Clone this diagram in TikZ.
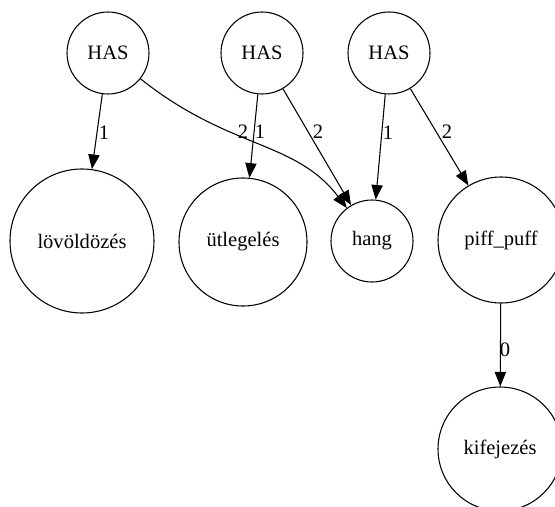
\documentclass[tikz,border=0pt]{standalone}
\usepackage{fontspec}
\setmainfont{Liberation Serif}
\usetikzlibrary{arrows.meta}
\begin{document}
\begin{tikzpicture}[x=0.75pt,y=-0.75pt,
  every node/.style={font=\fontsize{15.4}{18}\selectfont},
  circ/.style={draw,circle,inner sep=0pt,line width=0.8pt},
  lbl/.style={inner sep=0pt},
  conn/.style={line width=0.8pt,-{Triangle[length=11pt,width=8.5pt]}}]
\clip (0,0) rectangle (555,506);
\node[circ,minimum size=61.5pt] (h1) at (108,53) {HAS};
\node[circ,minimum size=61.5pt] (h2) at (262,53) {HAS};
\node[circ,minimum size=61.5pt] (h3) at (389,53) {HAS};
\node[circ,minimum size=108pt] (lov) at (82,241) {lövöldözés};
\node[circ,minimum size=96pt] (utl) at (243,242) {ütlegelés};
\node[circ,minimum size=61.5pt] (hang) at (372,241) {hang};
\node[circ,minimum size=94.5pt] (piff) at (501,240) {piff\_puff};
\node[circ,minimum size=93pt] (kif) at (500,449) {kifejezés};
\draw[conn] (h1) -- (lov);
\draw[conn] (h1) .. controls (230,150) and (295,140) .. (hang);
\draw[conn] (h2) -- (utl);
\draw[conn] (h2) -- (hang);
\draw[conn] (h3) -- (hang);
\draw[conn] (h3) -- (piff);
\draw[conn] (piff) -- (kif);
\node[lbl] (l1) at (104,133) {1};
\node[lbl] (l2) at (243,132) {2};
\node[lbl] (l3) at (260,132) {1};
\node[lbl] (l4) at (318,132) {2};
\node[lbl] (l5) at (388,133) {1};
\node[lbl] (l6) at (447,132) {2};
\node[lbl] (l7) at (505,350) {0};
\end{tikzpicture}
\end{document}
